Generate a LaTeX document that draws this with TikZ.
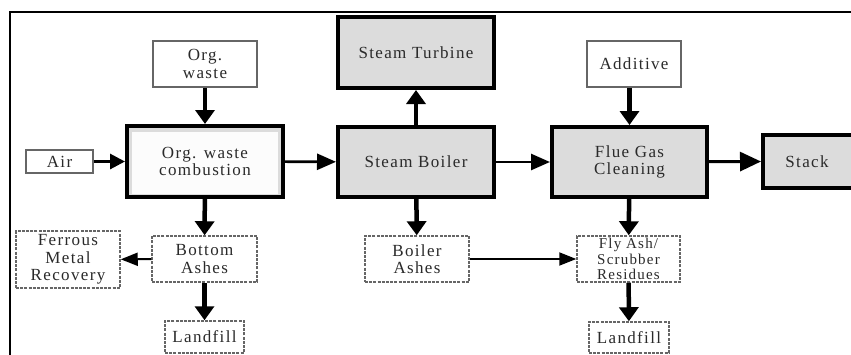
\documentclass[tikz,border=0pt]{standalone}
\usepackage{fontspec}
\setmainfont{Liberation Serif}[LetterSpace=8]
\usepackage{tikz}
\usetikzlibrary{arrows.meta}
\usetikzlibrary{positioning}
\definecolor{boxgray}{HTML}{DCDCDC}
\definecolor{linegray}{HTML}{666666}
\definecolor{txtgray}{HTML}{2A2A2A}

\begin{document}
\begin{tikzpicture}[x=1pt,y=-1pt]
\tikzstyle{base}=[align=center,inner sep=0pt,text=txtgray,font=\fontsize{17}{17.5}\selectfont]
\tikzstyle{feed}=[base,draw=linegray,line width=1.5pt,fill=white]
\tikzstyle{unit}=[base,draw=black,line width=4pt,fill=boxgray]
\tikzstyle{residue}=[base,draw=linegray,line width=1.5pt,dash pattern=on 3pt off 1.2pt,fill=white]
\tikzstyle{flow}=[-{Triangle[length=14pt,width=19pt]},line width=4.5pt]
\tikzstyle{hflow}=[-{Triangle[length=19pt,width=16pt]},line width=2.6pt]
\tikzstyle{thin}=[-{Triangle[length=17pt,width=13pt]},line width=2pt]
\useasboundingbox (0,0) rectangle (851,354);
\clip (0,0) rectangle (851,354);
\draw[line width=1.6pt] (10,360) -- (10,12) -- (860,12);

% feed streams
\node[feed,minimum width=104pt,minimum height=46pt] (WASTE) at (205,64) {Org.\\waste};
\node[feed,minimum width=67pt,minimum height=23pt] (AIR) at (59.5,161.5) {Air};
\node[feed,minimum width=94pt,minimum height=46pt] (ADD) at (634,64) {Additive};

% process units
\node[unit,minimum width=156pt,minimum height=71pt] (COMB) at (205,161.5) {};
\fill[white!92!boxgray] ([shift={(7pt,5pt)}]COMB.south west) rectangle ([shift={(-7pt,-8pt)}]COMB.north east);
\node[base] at (COMB) {Org. waste\\combustion};
\node[unit,minimum width=156pt,minimum height=71pt] (TURB) at (416,52.5) {Steam Turbine};
\node[unit,minimum width=156pt,minimum height=70pt] (BOIL) at (416,162) {Steam Boiler};
\node[unit,minimum width=155pt,minimum height=70pt] (FGC) at (629.5,162) {Flue Gas\\Cleaning};
\node[unit,minimum width=104pt,minimum height=53pt] (STACK) at (815,161.5) {};
\node[base] at (807,161.5) {Stack};

% residues
\node[residue,minimum width=105pt,minimum height=46pt] (BASH) at (204.5,259) {Bottom\\Ashes};
\node[residue,minimum width=104pt,minimum height=57pt] (FERR) at (68,259.5) {Ferrous\\Metal\\Recovery};
\node[residue,minimum width=79pt,minimum height=32pt] (LF1) at (204.5,337) {Landfill};
\node[residue,minimum width=104pt,minimum height=46pt] (BOILASH) at (417,259) {Boiler\\Ashes};
\node[residue,minimum width=103pt,minimum height=46pt,font=\fontsize{15}{15.3}\selectfont] (FLY) at (628.5,259) {Fly Ash/\\Scrubber\\Residues};
\node[residue,minimum width=80pt,minimum height=31pt] (LF2) at (629,337.5) {Landfill};

% flows
\draw[flow] (WASTE) -- (COMB);
\draw[-{Triangle[length=15pt,width=15pt]},line width=3pt] (AIR) -- (COMB);
\draw[hflow] (COMB) -- (BOIL);
\draw[flow] (BOIL) -- (TURB);
\draw[hflow] (BOIL) -- (FGC);
\draw[flow] (FGC.north |- ADD.south) -- (FGC.north);
\draw[-{Triangle[length=21pt,width=19pt]},line width=3pt] (FGC) -- (STACK.west);
\draw[flow] (COMB) -- (BASH);
\draw[thin] (BASH) -- (FERR);
\draw[flow] (BASH) -- (LF1);
\draw[flow] (BOIL) -- (BOILASH);
\draw[thin] (BOILASH) -- (FLY);
\draw[flow] (FGC) -- (FLY);
\draw[flow] (FLY) -- (LF2);
\end{tikzpicture}
\end{document}
